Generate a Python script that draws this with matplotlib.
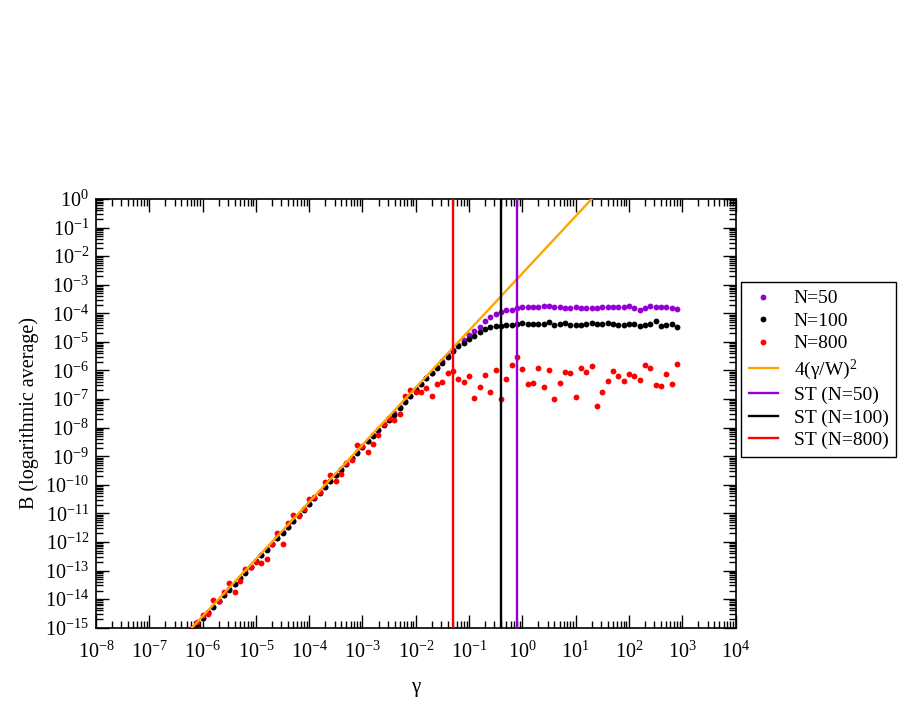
import numpy as np
import matplotlib
matplotlib.use("Agg")
import matplotlib.pyplot as plt
from matplotlib.ticker import FixedLocator, LogLocator, LogFormatterMathtext, NullFormatter

plt.rcParams['font.family'] = ['Liberation Serif', 'DejaVu Serif']
plt.rcParams['mathtext.fontset'] = 'custom'
plt.rcParams['mathtext.rm'] = 'Liberation Serif'
plt.rcParams['mathtext.it'] = 'Liberation Serif:italic'

# ---------------- data ----------------
W = 40.0
N_values = [50, 100, 800]
series_labels = ["N=50", "N=100", "N=800"]
st_labels = ["ST (N=50)", "ST (N=100)", "ST (N=800)"]
colors = ["#9400D3", "#000000", "#FF0000"]
line_label = "4(γ/W)$^{2}$"
x_decades = list(range(-8, 5))
y_decades = list(range(-15, 1))

# sampling grid: log10(gamma) from -6.2 to 2.9 in steps of 0.1
log_gamma = np.round(np.arange(-6.2, 2.95, 0.1), 1)

# log10(B)
logB_N50 = [
    -15.06, -14.86, -14.66, -14.46, -14.26, -14.06, -13.86, -13.66, -13.46, -13.26,
    -13.06, -12.86, -12.66, -12.46, -12.26, -12.06, -11.86, -11.66, -11.46, -11.26,
    -11.06, -10.86, -10.66, -10.46, -10.26, -10.06, -9.86, -9.66, -9.46, -9.26,
    -9.06, -8.86, -8.66, -8.46, -8.26, -8.07,
    -7.87, -7.68, -7.49, -7.28, -7.08, -6.88, -6.67, -6.47, -6.27, -6.08, -5.88, -5.68,
    -5.47, -5.27, -5.12, -4.93, -4.76, -4.61, -4.47, -4.27, -4.13, -4.03, -3.94, -3.88,
    -3.88, -3.83, -3.79, -3.77, -3.77, -3.77, -3.74, -3.76, -3.79, -3.79,
    -3.83, -3.80, -3.78, -3.80, -3.81, -3.81, -3.83, -3.79, -3.79, -3.79, -3.79,
    -3.79, -3.76, -3.81, -3.87, -3.81, -3.76, -3.78, -3.78, -3.79, -3.83, -3.86,
]
logB_N100 = [
    -15.07, -14.87, -14.67, -14.47, -14.27, -14.07, -13.87, -13.67, -13.47, -13.27,
    -13.07, -12.87, -12.67, -12.47, -12.27, -12.07, -11.87, -11.67, -11.47, -11.27,
    -11.07, -10.87, -10.67, -10.47, -10.27, -10.07, -9.87, -9.67, -9.47, -9.27,
    -9.07, -8.87, -8.67, -8.47, -8.28, -8.09,
    -7.91, -7.73, -7.57, -7.33, -7.10, -6.88, -6.66, -6.47, -6.27, -6.10, -5.90, -5.73,
    -5.54, -5.31, -5.15, -5.03, -4.89, -4.79, -4.64, -4.55, -4.47, -4.44, -4.45, -4.42,
    -4.40, -4.39, -4.35,
    -4.36, -4.39, -4.38, -4.36, -4.32, -4.40, -4.37,
    -4.34, -4.40, -4.40, -4.40, -4.36, -4.34, -4.39, -4.39, -4.35, -4.36, -4.40,
    -4.40, -4.36, -4.39, -4.44, -4.41, -4.36, -4.28, -4.43, -4.40, -4.36, -4.48,
]
logB_N800 = [
    -15.00, -14.80, -14.56, -14.52, -14.03, -14.05, -13.75, -13.45, -13.75, -13.37,
    -12.96, -12.87, -12.71, -12.73, -12.61, -12.07, -11.70, -12.06, -11.35, -11.05,
    -11.08, -10.86, -10.48, -10.44, -10.25, -9.90, -9.65, -9.88, -9.62, -9.25,
    -9.13, -8.61, -8.63, -8.85, -8.56, -8.25,
    -7.88, -7.65, -7.74, -7.51, -6.88, -6.67, -6.76, -6.76, -6.61, -6.90,
    -6.47, -6.41, -6.08, -6.02, -6.31, -6.39, -6.19, -6.96, -6.58, -6.16,
    -6.74, -5.99, -7.01, -6.29, -5.82, -5.53, -5.94, -6.47, -6.45, -5.91,
    -6.59, -5.98, -7.00, -6.43, -6.04, -6.09, -6.94, -5.91, -6.04, -5.83,
    -7.26, -6.74, -6.38, -6.03, -6.19, -6.37, -6.11, -6.19, -6.34, -5.81,
    -5.91, -6.51, -6.53, -6.11, -6.46, -5.76,
]
series = [logB_N50, logB_N100, logB_N800]

# theory line 4(gamma/W)^2 evaluated over the axis range
gamma_line = np.array([1e-8, 1e4])
B_line = 4.0 * (gamma_line / W) ** 2

# ---------------- figure ----------------
fig = plt.figure(figsize=(9.13, 7.06), dpi=100)
ax = fig.add_axes([96 / 913, 1 - 627.7 / 706, 639.5 / 913, 428.7 / 706])

gamma = 10.0 ** log_gamma
handles = []
for vals, col, lab in zip(series, colors, series_labels):
    h, = ax.plot(gamma, 10.0 ** np.array(vals), linestyle='none', marker='o',
                 ms=4.2, mfc=col, mec=col, mew=0, color=col, label=lab, zorder=2)
    handles.append(h)

h, = ax.plot(gamma_line, B_line, color='#FFA500', lw=1.7, label=line_label, zorder=3)
handles.append(h)
for N, col, lab in zip(N_values, colors, st_labels):
    h = ax.axvline(W / N, color=col, lw=1.7, label=lab, zorder=3)
    handles.append(h)

ax.set_xscale('log')
ax.set_yscale('log')
ax.set_xlim(1e-8, 1e4)
ax.set_ylim(1e-15, 1e0)

ax.xaxis.set_major_locator(FixedLocator([10.0 ** d for d in x_decades]))
ax.yaxis.set_major_locator(FixedLocator([10.0 ** d for d in y_decades]))
ax.xaxis.set_minor_locator(LogLocator(base=10, subs=np.arange(2, 10), numticks=200))
ax.yaxis.set_minor_locator(LogLocator(base=10, subs=np.arange(2, 10), numticks=200))
ax.xaxis.set_major_formatter(LogFormatterMathtext())
ax.yaxis.set_major_formatter(LogFormatterMathtext())
ax.xaxis.set_minor_formatter(NullFormatter())
ax.yaxis.set_minor_formatter(NullFormatter())

ax.tick_params(which='both', direction='in', top=True, right=True, width=1.0)
ax.tick_params(which='major', length=9.5, labelsize=14.5)
ax.tick_params(which='minor', length=5)
ax.tick_params(axis='x', which='major', pad=10)
ax.tick_params(axis='y', which='major', pad=5)
for s in ax.spines.values():
    s.set_linewidth(1.2)

ax.set_xlabel("γ", fontsize=15, labelpad=11)
ax.set_ylabel("B (logarithmic average)", fontsize=14.5, labelpad=4)

leg = ax.legend(handles=handles, loc='upper left',
                bbox_to_anchor=(741 / 913, 1 - 282 / 706), bbox_transform=fig.transFigure,
                borderaxespad=0, fontsize=14, numpoints=1, handlelength=1.5,
                handletextpad=0.8, labelspacing=0.25, borderpad=0.4,
                fancybox=False, framealpha=1, edgecolor='black')
leg.get_frame().set_linewidth(1.0)

fig.savefig("out.png", dpi=100)
